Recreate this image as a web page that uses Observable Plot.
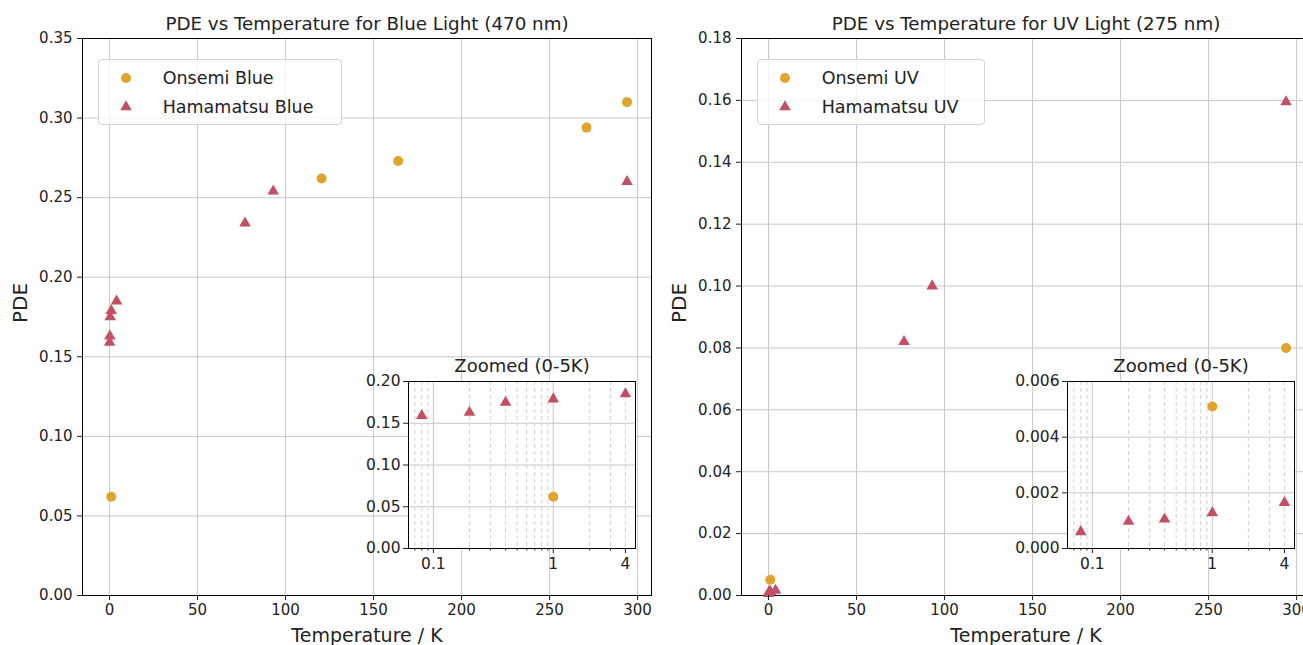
<!DOCTYPE html>
<html><head><meta charset="utf-8">
<script src="https://cdn.jsdelivr.net/npm/d3@7"></script>
<script src="https://cdn.jsdelivr.net/npm/@observablehq/plot@0.6"></script>
<style>
html,body{margin:0;padding:0;background:#fff;overflow:hidden;}
#root{position:relative;width:1303px;height:645px;overflow:hidden;font-family:"DejaVu Sans",sans-serif;color:#222;}
.legend{position:absolute;box-sizing:border-box;border:1px solid #d6d6d6;border-radius:4px;background:rgba(255,255,255,0.8);}
.legend .row{position:absolute;left:0;height:24px;line-height:24px;font-size:17.5px;white-space:nowrap;}
.legend svg{position:absolute;left:17px;top:2px;}
.legend span{position:absolute;left:64px;top:0;}
</style></head><body><div id="root"></div>
<script>
// ---- data ----
const xTicksMain = [0, 50, 100, 150, 200, 250, 300];
const blueYTicks = [0, 0.05, 0.10, 0.15, 0.20, 0.25, 0.30, 0.35];
const uvYTicks = [0, 0.02, 0.04, 0.06, 0.08, 0.10, 0.12, 0.14, 0.16, 0.18];
const insetXTicks = [0.1, 1, 4];
const insetXTickLabels = ["0.1", "1", "4"];
const insetXMinor = [0.07, 0.08, 0.09, 0.2, 0.3, 0.4, 0.5, 0.6, 0.7, 0.8, 0.9, 2, 3, 4];
const blueInsetYTicks = [0, 0.05, 0.10, 0.15, 0.20];
const uvInsetYTicks = [0, 0.002, 0.004, 0.006];

const blueOnsemiT = [1, 120.5, 164, 271, 294];
const blueOnsemiPDE = [0.062, 0.262, 0.273, 0.294, 0.310];
const blueHamaT = [0.08, 0.2, 0.4, 1, 4, 77, 93, 294];
const blueHamaPDE = [0.159, 0.163, 0.175, 0.179, 0.185, 0.234, 0.254, 0.260];

const uvOnsemiT = [1, 294];
const uvOnsemiPDE = [0.0051, 0.080];
const uvHamaT = [0.08, 0.2, 0.4, 1, 4, 77, 93, 294];
const uvHamaPDE = [0.0006, 0.00097, 0.00105, 0.00128, 0.00165, 0.082, 0.100, 0.1595];

const ONS = "#e0a32e";
const HAM = "#c44f62";
const GRID = "#c8c8c8";

function rec(T, P) { return T.map((t, i) => ({T: t, PDE: P[i]})); }

const root = document.getElementById("root");
function place(el, left, top) {
  el.style.position = "absolute"; el.style.left = left + "px"; el.style.top = top + "px";
  root.appendChild(el);
}

function mainPanel(cfg) {
  return Plot.plot({
    width: 660, height: 645,
    marginLeft: 82, marginRight: 9, marginTop: 38, marginBottom: 50,
    style: {fontFamily: "DejaVu Sans", color: "#222", background: "transparent", overflow: "visible"},
    x: {domain: [-15.34, 307.9]},
    y: {domain: [0, cfg.yMax]},
    marks: [
      Plot.gridX(xTicksMain, {stroke: GRID, strokeOpacity: 1}),
      Plot.gridY(cfg.yTicks, {stroke: GRID, strokeOpacity: 1}),
      Plot.frame({stroke: "#000"}),
      Plot.dot(rec(cfg.onsT, cfg.onsP), {x: "T", y: "PDE", r: 5, fill: ONS}),
      Plot.dot(rec(cfg.hamT, cfg.hamP), {x: "T", y: "PDE", r: 4.3, symbol: "triangle", fill: HAM}),
      Plot.axisX(xTicksMain, {tickSize: 5, tickPadding: 4, fontSize: 15, label: null}),
      Plot.axisY(cfg.yTicks, {tickSize: 5, tickPadding: 5, fontSize: 15, tickFormat: d3.format(".2f"), label: null}),
      Plot.text([cfg.title], {text: d => d, frameAnchor: "top", dy: -9, fontSize: 18.3, lineAnchor: "bottom"}),
      Plot.text(["Temperature / K"], {text: d => d, frameAnchor: "bottom", dy: 46, fontSize: 19, lineAnchor: "bottom"}),
      Plot.text(["PDE"], {text: d => d, frameAnchor: "left", dx: -62, dy: 6, rotate: -90, fontSize: 20})
    ]
  });
}

function insetPanel(cfg) {
  return Plot.plot({
    width: 277, height: 227,
    marginLeft: 45, marginRight: 5, marginTop: 30, marginBottom: 30,
    style: {fontFamily: "DejaVu Sans", color: "#222", background: "transparent", overflow: "visible"},
    x: {type: "log", domain: [0.062, 4.85]},
    y: {domain: [0, cfg.yMax]},
    marks: [
      Plot.frame({fill: "white"}),
      Plot.gridX(insetXMinor, {stroke: "#d2d2d2", strokeOpacity: 1, strokeDasharray: "4,3"}),
      Plot.gridX([0.1, 1], {stroke: GRID, strokeOpacity: 1}),
      Plot.gridY(cfg.yTicks, {stroke: GRID, strokeOpacity: 1}),
      Plot.frame({stroke: "#000"}),
      Plot.dot(rec(cfg.onsT, cfg.onsP).filter(d => d.T <= 5), {x: "T", y: "PDE", r: 5, fill: ONS}),
      Plot.dot(rec(cfg.hamT, cfg.hamP).filter(d => d.T <= 5), {x: "T", y: "PDE", r: 4.3, symbol: "triangle", fill: HAM}),
      Plot.axisX(insetXMinor, {tickSize: 2.5, tickFormat: () => "", label: null}),
      Plot.axisX(insetXTicks, {tickSize: 5, tickFormat: () => "", label: null}),
      Plot.text(insetXTicks, {x: d => d, text: (d, i) => insetXTickLabels[i], frameAnchor: "bottom", dy: 9, lineAnchor: "top", fontSize: 15.5}),
      Plot.axisY(cfg.yTicks, {tickSize: 5, tickPadding: 3, fontSize: 15.5, tickFormat: d3.format(cfg.fmt), label: null}),
      Plot.text(["Zoomed (0-5K)"], {text: d => d, frameAnchor: "top", dy: -10, fontSize: 18, lineAnchor: "bottom"})
    ]
  });
}

function legend(left, top, w, h, labels) {
  const div = document.createElement("div");
  div.className = "legend";
  div.style.width = w + "px"; div.style.height = h + "px";
  const rows = [
    {y: 6, label: labels[0], marker: `<circle cx="10" cy="10" r="5" fill="${ONS}"/>`},
    {y: 35, label: labels[1], marker: `<path d="${d3.symbol(d3.symbolTriangle, 4.3*4.3*Math.PI)()}" transform="translate(10,10)" fill="${HAM}"/>`}
  ];
  for (const r of rows) {
    const row = document.createElement("div");
    row.className = "row"; row.style.top = r.y + "px"; row.style.width = w + "px";
    row.innerHTML = `<svg width="20" height="20">${r.marker}</svg><span>${r.label}</span>`;
    div.appendChild(row);
  }
  place(div, left, top);
}

place(mainPanel({title: "PDE vs Temperature for Blue Light (470 nm)", onsT: blueOnsemiT, onsP: blueOnsemiPDE, hamT: blueHamaT, hamP: blueHamaPDE, yTicks: blueYTicks, yMax: 0.35}), 0, 0);
place(mainPanel({title: "PDE vs Temperature for UV Light (275 nm)", onsT: uvOnsemiT, onsP: uvOnsemiPDE, hamT: uvHamaT, hamP: uvHamaPDE, yTicks: uvYTicks, yMax: 0.18}), 659, 0);
place(insetPanel({onsT: blueOnsemiT, onsP: blueOnsemiPDE, hamT: blueHamaT, hamP: blueHamaPDE, yTicks: blueInsetYTicks, yMax: 0.20, fmt: ".2f"}), 363.3, 350.7);
place(insetPanel({onsT: uvOnsemiT, onsP: uvOnsemiPDE, hamT: uvHamaT, hamP: uvHamaPDE, yTicks: uvInsetYTicks, yMax: 0.006, fmt: ".3f"}), 1021.7, 350.7);
legend(97.7, 59.3, 244, 66, ["Onsemi Blue", "Hamamatsu Blue"]);
legend(756.7, 59.3, 228, 66, ["Onsemi UV", "Hamamatsu UV"]);
</script></body></html>
